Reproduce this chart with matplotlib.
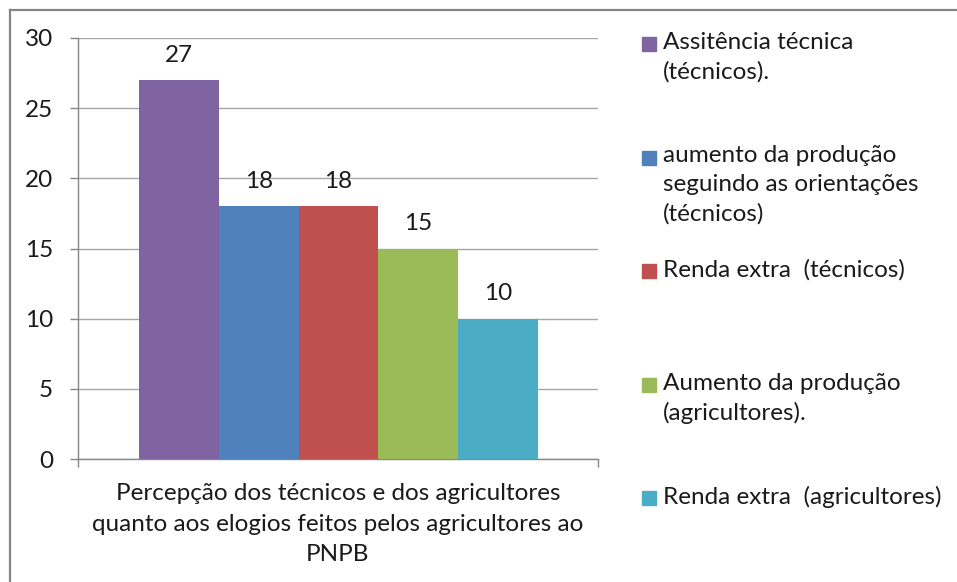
import matplotlib.pyplot as plt
from matplotlib.patches import Rectangle
from matplotlib.lines import Line2D

plt.rcParams['font.family'] = ['Lato', 'DejaVu Sans']

# bar data
categories = ["Assitência técnica\n(técnicos).",
              "aumento da produção\nseguindo as orientações\n(técnicos)",
              "Renda extra  (técnicos)",
              "Aumento da produção\n(agricultores).",
              "Renda extra  (agricultores)"]
values = [27, 18, 18, 15, 10]
colors = ["#8064A2", "#4F81BD", "#C0504D", "#9BBB59", "#4BACC6"]
yticks = [0, 5, 10, 15, 20, 25, 30]
xlabel = ("Percepção dos técnicos e dos agricultores\n"
          "quanto aos elogios feitos pelos agricultores ao\n"
          "PNPB")

W, H = 957, 582
fig = plt.figure(figsize=(W / 100, H / 100), dpi=100)
FS = 17.5
txt = "#1a1a1a"
axis_grey = "#868686"

# outer chart frame (runs off the right and bottom edges)
fig.add_artist(Line2D([10 / W, 1.0], [1 - 10 / H, 1 - 10 / H], transform=fig.transFigure,
                      color=axis_grey, lw=1.6))
fig.add_artist(Line2D([10 / W, 10 / W], [1 - 10 / H, 0.0], transform=fig.transFigure,
                      color=axis_grey, lw=1.6))

ax = fig.add_axes([78 / W, (H - 459) / H, 520 / W, 421 / H])
x = list(range(len(values)))
bars = ax.bar(x, values, width=1.0, color=colors, zorder=3)

for b, v in zip(bars, values):
    ax.annotate(str(v), (b.get_x() + b.get_width() / 2, v), xytext=(0, 18),
                textcoords="offset points", ha="center", va="center",
                fontsize=FS, color=txt)

ax.set_xlim(-1.2625, 5.25)
ax.set_ylim(0, 30)
ax.set_yticks(yticks)
ax.yaxis.grid(True, color="#A6A6A6", lw=1.0, zorder=0)
ax.set_xticks([-1.2625, 5.25])
ax.set_xticklabels(["", ""])
ax.tick_params(axis="both", direction="out", length=6, width=1.0, color=axis_grey,
               labelsize=FS, labelcolor=txt)
ax.tick_params(axis="y", pad=12)
for side in ("top", "right"):
    ax.spines[side].set_visible(False)
for side in ("left", "bottom"):
    ax.spines[side].set_color(axis_grey)
    ax.spines[side].set_linewidth(1.0)

ax.set_xlabel(xlabel, fontsize=FS, color=txt, labelpad=8, linespacing=1.55)

# legend: one slot per series, evenly spaced by first line
top0, step = 32, 113.5
for i, (lab, col) in enumerate(zip(categories, colors)):
    y = top0 + i * step
    fig.add_artist(Rectangle((642 / W, 1 - (y + 19) / H), 14 / W, 14 / H,
                             transform=fig.transFigure, color=col))
    fig.text(663 / W, 1 - y / H, lab, fontsize=FS, color=txt,
             va="top", ha="left", linespacing=1.45)

fig.savefig("out.png", dpi=100)
